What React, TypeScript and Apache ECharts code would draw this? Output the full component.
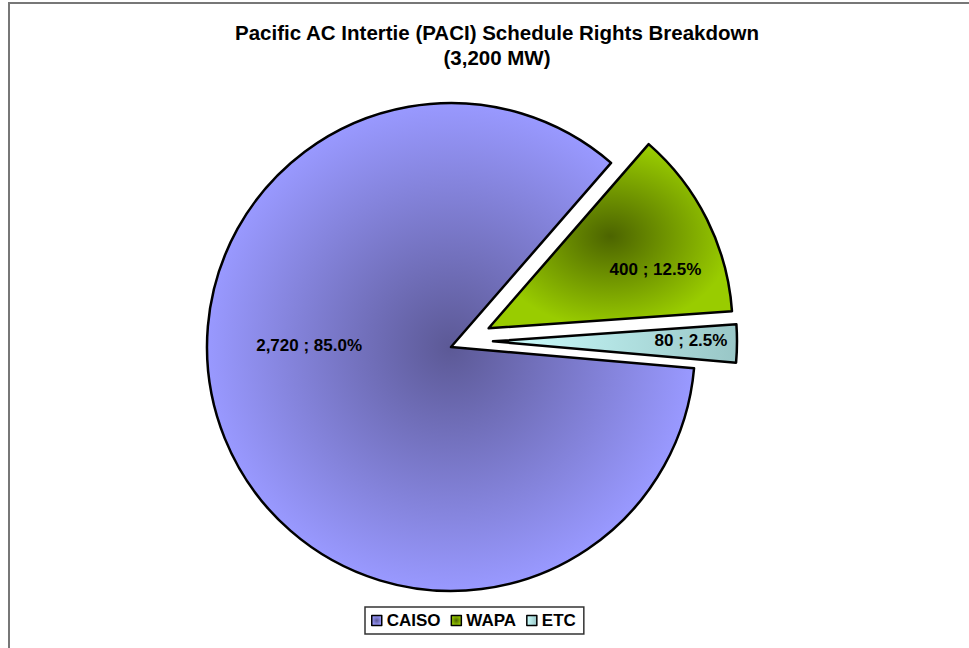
import React, { useEffect, useRef } from "react";
import * as echarts from "echarts";

const titleLines = ["Pacific AC Intertie (PACI) Schedule Rights Breakdown", "(3,200 MW)"];
const categories = ["CAISO", "WAPA", "ETC"];
const values = [2720, 400, 80];
const exploded = [false, true, true];
const edgeColors = ["#9999FF", "#99CC00", "#CCFFFF"];
const centerColors = ["#5c5996", "#4c6400", "#99c6c6"];
const labelShift = [
  [-26, -48],
  [55, -3],
  [73, -2],
];
// which drawing layer each slice belongs to (ETC is drawn slightly higher, as in the reference)
const layerOf = [0, 0, 1];
const layerCenters = [
  [451, 347],
  [451, 341],
];

const FONT = "'Liberation Sans', Arial, sans-serif";

function fmt(n: number) {
  return n.toLocaleString("en-US");
}

export default function App() {
  const ref = useRef<HTMLDivElement>(null);
  useEffect(() => {
    if (!ref.current) return;
    const chart = echarts.init(ref.current, undefined, { renderer: "svg" });
    const total = values.reduce((a, b) => a + b, 0);
    const fillOf = (i: number) =>
      i === 2
        ? new echarts.graphic.LinearGradient(0, 0, 1, 0, [
            { offset: 0, color: edgeColors[i] },
            { offset: 1, color: centerColors[i] },
          ])
        : new echarts.graphic.RadialGradient(0.5, 0.5, 0.5, [
            { offset: 0, color: centerColors[i] },
            { offset: 1, color: edgeColors[i] },
          ]);

    const makeLayer = (layer: number) =>
      categories.map((name, i) => {
        const real = layerOf[i] === layer;
        return real
          ? {
              name,
              value: values[i],
              selected: exploded[i],
              itemStyle: { color: fillOf(i) },
            }
          : {
              name: "_hidden_" + name,
              value: values[i],
              itemStyle: { color: "rgba(0,0,0,0)", borderWidth: 0 },
              select: { itemStyle: { color: "rgba(0,0,0,0)", borderWidth: 0 } },
              label: { show: false },
              silent: true,
            };
      });

    const seriesBase = (layer: number) => ({
      type: "pie",
      center: layerCenters[layer],
      radius: [0, 244],
      startAngle: -5,
      clockwise: true,
      selectedMode: "multiple",
      selectedOffset: 42,
      select: { itemStyle: { borderColor: "#000", borderWidth: 2.5 } },
      emphasis: { disabled: true },
      avoidLabelOverlap: false,
      itemStyle: { borderColor: "#000", borderWidth: 2.5 },
      label: {
        show: true,
        position: "inside",
        fontFamily: FONT,
        fontSize: 17,
        fontWeight: "bold",
        color: "#000",
        formatter: (p: any) => `${fmt(p.value)} ; ${((p.value / total) * 100).toFixed(1)}%`,
      },
      labelLine: { show: false },
      labelLayout: (p: any) => ({ dx: labelShift[p.dataIndex][0], dy: labelShift[p.dataIndex][1] }),
      data: makeLayer(layer),
    });

    chart.setOption({
      animation: false,
      backgroundColor: "#ffffff",
      title: {
        text: titleLines.join("\n"),
        left: 492,
        top: 15,
        textAlign: "center",
        textStyle: {
          fontFamily: FONT,
          fontSize: 20.5,
          fontWeight: "bold",
          color: "#000",
          lineHeight: 25,
        },
      },
      legend: {
        data: categories,
        left: 365,
        top: 607,
        orient: "horizontal",
        itemWidth: 10,
        itemHeight: 10,
        itemGap: 10,
        padding: [5, 8, 5, 6],
        borderColor: "#333",
        borderWidth: 1.5,
        icon: "rect",
        selectedMode: false,
        itemStyle: { borderColor: "#000", borderWidth: 1.5 },
        textStyle: {
          fontFamily: FONT,
          fontSize: 17,
          fontWeight: "bold",
          color: "#000",
          padding: [0, 0, 0, 0],
        },
      },
      graphic: [
        {
          type: "rect",
          shape: { x: 9, y: 3, width: 1000, height: 700 },
          style: { fill: "none", stroke: "#777", lineWidth: 2 },
          silent: true,
          z: -10,
        },
      ],
      series: [seriesBase(0), seriesBase(1)],
    });
    return () => chart.dispose();
  }, []);
  return (
    <div
      ref={ref}
      style={{ position: "absolute", left: 0, top: 0, width: 969, height: 648 }}
    />
  );
}
